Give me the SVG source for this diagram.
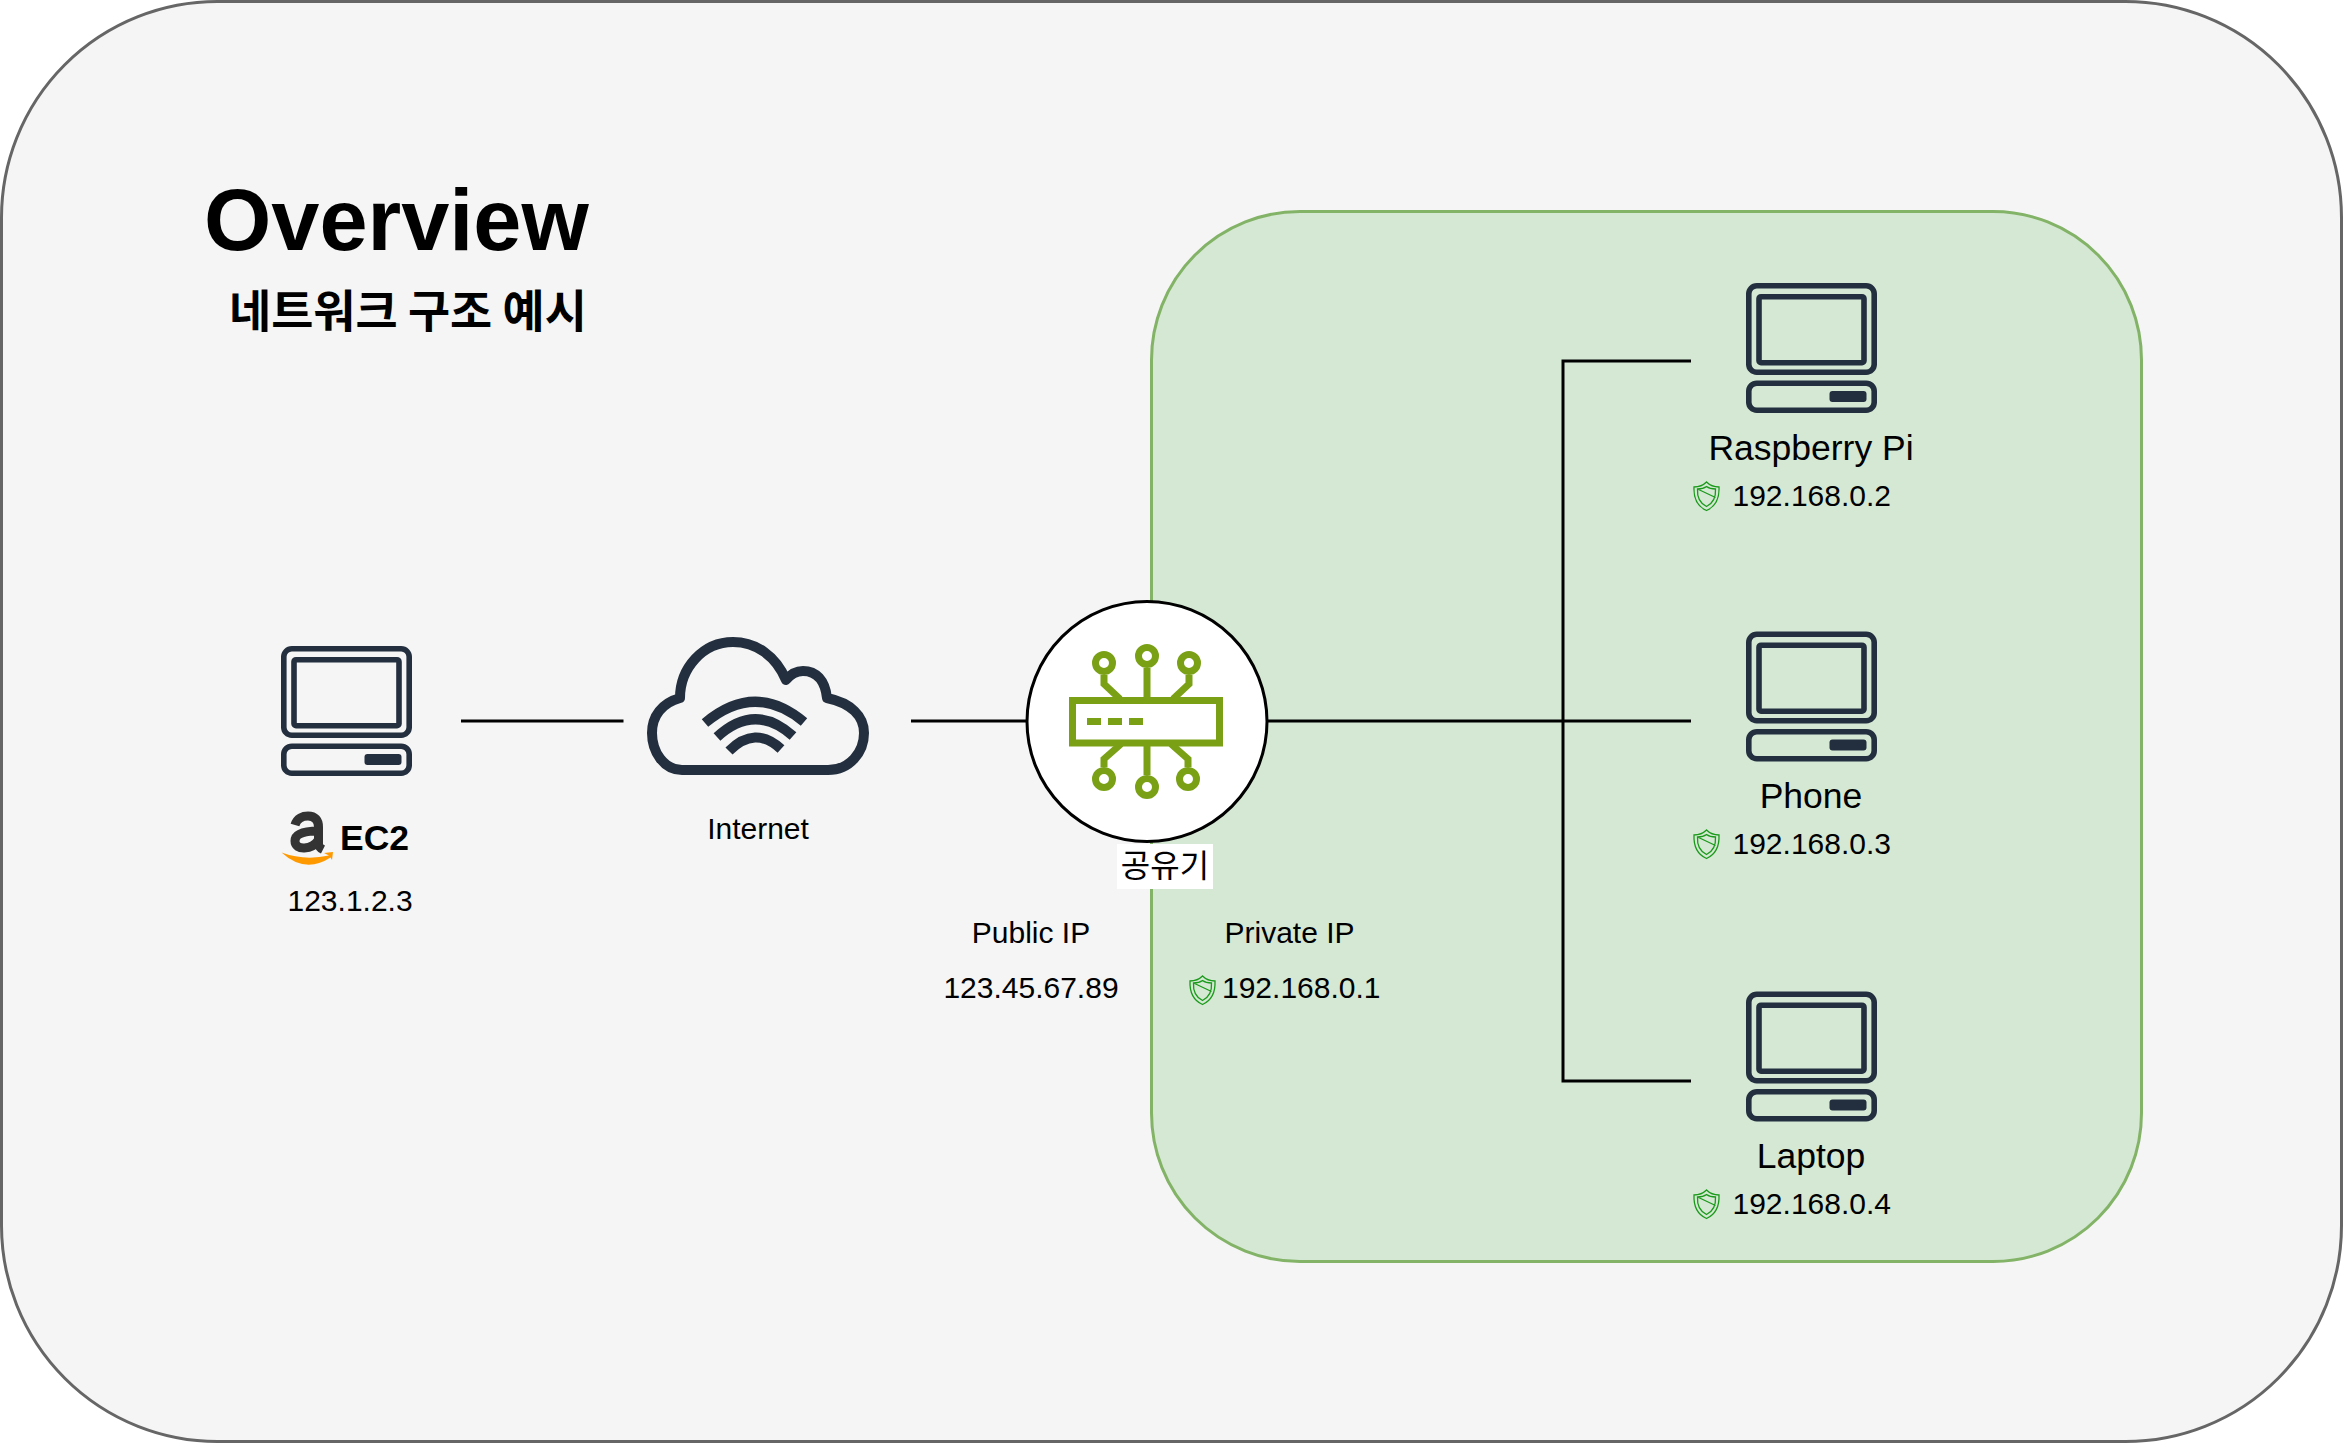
<svg xmlns="http://www.w3.org/2000/svg" width="2346" height="1446" viewBox="0 0 2346 1446">
<style>
text{font-family:"Liberation Sans","Noto Sans CJK KR",sans-serif;fill:#000;font-size:30px}
.kr{font-family:"Noto Sans CJK KR",sans-serif}
.lg{font-size:35.5px}
.c{text-anchor:middle}
.conn{fill:none;stroke:#000;stroke-width:3}
.ink{fill:none;stroke:#232f3e;stroke-width:5.6}
.ink10{fill:none;stroke:#232f3e;stroke-width:10;stroke-linejoin:round}
.rt{fill:none;stroke:#7aa116;stroke-width:7}
.sh{fill:none;stroke:#1a9a1a;stroke-width:1.3}
</style>
<defs>
<g id="computer">
<rect class="ink" x="2.800" y="2.800" width="125.400" height="86.400" rx="8"/>
<rect class="ink" x="13" y="13.700" width="105" height="66" rx="2"/>
<rect class="ink" x="2.800" y="100.200" width="125.400" height="27" rx="8"/>
<rect x="83.500" y="108" width="37" height="11" rx="3" fill="#232f3e"/>
</g>
<g id="shield">
<path class="sh" d="M13 0C16 3 21 5 25.500 5C26 16 23 24 13 28.500C3 24 0 16 .5 5C5 5 10 3 13 0Z"/>
<path class="sh" d="M4 7C8 7 11 6 13 4.500C15 6 18 7 22 7C22.500 15 20 21 13 24.500C6 21 3.500 15 4 7ZM4 7L22 15.500"/>
</g>
</defs>
<g id="background"><rect x="1.500" y="1.500" width="2340" height="1440" rx="216" fill="#f5f5f5" stroke="#666" stroke-width="3"/></g>
<g id="private-network"><rect x="1151.500" y="211.500" width="990" height="1050" rx="148.500" fill="#d5e8d4" stroke="#82b366" stroke-width="3"/></g>
<g id="title">
<text x="204" y="250" font-weight="700" style="font-size:86.500px">Overview</text>
<text class="kr" x="229" y="327.500" font-weight="700" style="font-size:45.800px">네트워크 구조 예시</text>
</g>
<g id="connectors">
<path class="conn" d="M461 721H623.500"/>
<path class="conn" d="M911 721H1691"/>
<path class="conn" d="M1691 361H1563V1081H1691"/>
</g>
<g id="ec2">
<use href="#computer" x="281" y="646"/>
<path id="amazon-a" fill="none" stroke="#333" stroke-width="9" d="M295 825C297 818 303 816 308 816C315 816 318.500 820 318.500 827V844C318.500 846 320 848 323 849.500M318.500 831C305 831 295 833 295 841C295 851 312 850 318.500 840"/>
<path id="amazon-swoosh" fill="#f90" d="M281.500 852.500Q304 861 329 855.500L324 853L333 852L332 860L330.500 857.500Q305 874 281.500 852.500Z"/>
<text class="lg" x="340" y="850" font-weight="700">EC2</text>
<text x="287.500" y="911">123.1.2.3</text>
</g>
<g id="internet">
<path class="ink10" d="M682 770H828C850 770 864 752 864 733C864 716 851 703 827 698C825 680 816 671 803 671C796 671 790 675 786 680C776 656 756 642 733 642C703 642 680 668 680 698C662 703 652 716 652 733C652 752 664 770 682 770Z"/>
<path fill="none" stroke="#232f3e" stroke-width="10" d="M705 723Q755 681 804 722M717 737Q755 702 793 736M729 751Q755 725 781 749"/>
<text class="c" x="758" y="838.500">Internet</text>
</g>
<g id="router">
<circle cx="1147" cy="721.500" r="120" fill="#fff" stroke="#000" stroke-width="3"/>
<rect class="rt" x="1072.500" y="700.500" width="147" height="42.500"/>
<path fill="#7aa116" d="M1087 718h14v7h-14zM1108 718h14v7h-14zM1129 718h14v7h-14z"/>
<circle class="rt" cx="1147" cy="656" r="8.500"/>
<circle class="rt" cx="1104" cy="663" r="8.500"/>
<circle class="rt" cx="1189" cy="663" r="8.500"/>
<circle class="rt" cx="1147" cy="787" r="8.500"/>
<circle class="rt" cx="1104" cy="779" r="8.500"/>
<circle class="rt" cx="1188" cy="779" r="8.500"/>
<path class="rt" d="M1147 668V697M1104 675V684L1120 699M1189 675V684L1173 699M1147 746V775M1104 767V759L1121 744M1188 767V759L1171 744"/>
<rect x="1117" y="844" width="96" height="45" fill="#fff"/>
<text class="kr c" x="1165" y="877" style="font-size:32px">공유기</text>
</g>
<g id="wan-ip">
<text class="c" x="1031" y="943">Public IP</text>
<text class="c" x="1031" y="997.500">123.45.67.89</text>
</g>
<g id="lan-ip">
<text x="1224.500" y="943">Private IP</text>
<use href="#shield" x="1189.500" y="976"/>
<text x="1222" y="997.500">192.168.0.1</text>
</g>
<g id="raspberry-pi">
<use href="#computer" x="1746" y="283"/>
<text class="lg c" x="1811" y="460">Raspberry Pi</text>
<use href="#shield" x="1693.500" y="482"/>
<text x="1732.500" y="505.500">192.168.0.2</text>
</g>
<g id="phone">
<use href="#computer" x="1746" y="631.500"/>
<text class="lg c" x="1811" y="808">Phone</text>
<use href="#shield" x="1693.500" y="830"/>
<text x="1732.500" y="854">192.168.0.3</text>
</g>
<g id="laptop">
<use href="#computer" x="1746" y="991.500"/>
<text class="lg c" x="1811" y="1168">Laptop</text>
<use href="#shield" x="1693.500" y="1190"/>
<text x="1732.500" y="1214">192.168.0.4</text>
</g>
</svg>
